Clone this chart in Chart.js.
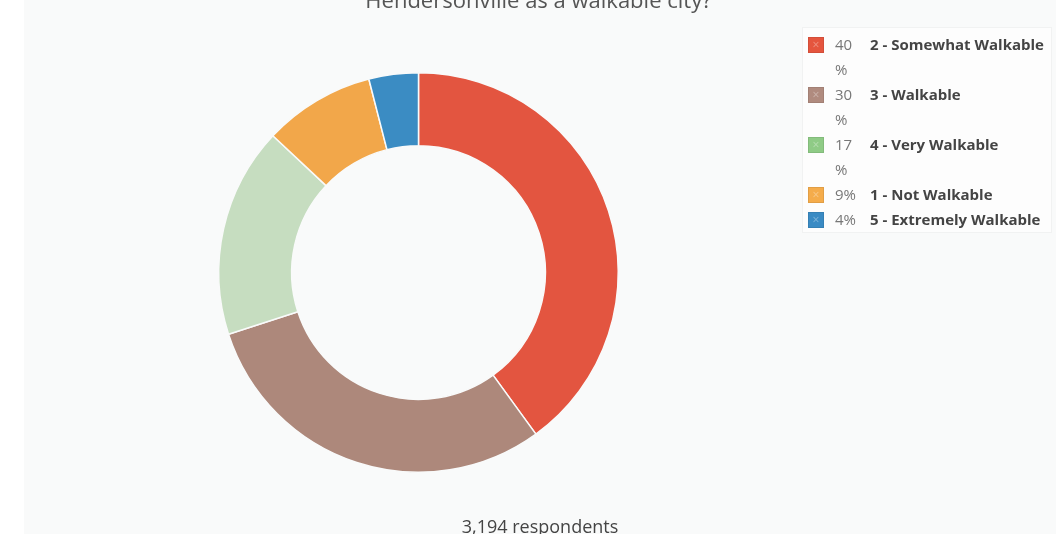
<!DOCTYPE html>
<html>
<head>
<meta charset="utf-8">
<script src="https://cdn.jsdelivr.net/npm/chart.js@4/dist/chart.umd.min.js"></script>
<style>
  html, body { margin: 0; padding: 0; background: #fff; }
  body { width: 1056px; height: 534px; position: relative; overflow: hidden; font-family: "Open Sans", sans-serif; }
  #panel { position: absolute; left: 24px; top: 0; right: 0; bottom: 0; background: #f9fafa; }
  #js-chart-canvas { position: absolute; left: 0; top: 0; }
  .title { position: absolute; left: 0; width: 1077px; top: -16px; text-align: center; font-size: 22px; line-height: 30px; color: #555; }
  .footer { position: absolute; left: 0; width: 1080px; top: 514px; text-align: center; font-size: 18px; line-height: 24px; color: #444; }
  #legend { position: absolute; left: 803px; top: 28px; width: 248px; height: 204px; background: #fdfdfd; box-shadow: 0 0 0 1px #f1f2f2; }
  .row { position: absolute; left: 0; top: 0; font-size: 15px; line-height: 25px; }
  .swatch { position: absolute; left: 5px; top: 5px; width: 14px; height: 14px; border: 1px solid rgba(0,0,0,0.08); }
  .swatch::after { content: "×"; position: absolute; left: 0; top: -6px; width: 14px; text-align: center; font-size: 12px; color: rgba(255,255,255,0.35); }
  .pct { position: absolute; left: 32px; top: 0; width: 26px; color: #777; }
  .lab { position: absolute; left: 67px; top: 0; white-space: nowrap; font-weight: bold; color: #444; }
</style>
</head>
<body>
<div id="panel"></div>
<canvas id="js-chart-canvas" width="1056" height="534"></canvas>
<div class="title">Hendersonville as a walkable city?</div>
<div class="footer">3,194 respondents</div>
<div id="legend"></div>
<script>
// 걷기 좋은 도시 설문 - 도넛 차트

const labels = [
  "2 - Somewhat Walkable",
  "3 - Walkable",
  "4 - Very Walkable",
  "1 - Not Walkable",
  "5 - Extremely Walkable",
];

const percents = [40, 30, 17, 9, 4];

const sliceColors = ["#e35540", "#ad887b", "#c6ddc0", "#f2a74a", "#3b8cc3"];
const swatchColors = ["#e5553e", "#b08b7f", "#8fcb86", "#f5ac4b", "#3a8bc4"];

// 범례 (HTML) - 두 자리 숫자는 "%"가 다음 줄로 넘어감
const legendBox = document.querySelector("#legend");
let rowTop = 4;
labels.forEach((label, i) => {
  const row = document.createElement("div");
  row.className = "row";
  row.style.top = rowTop + "px";
  row.innerHTML =
    '<div class="swatch" style="background:' + swatchColors[i] + '"></div>' +
    '<div class="pct">' + percents[i] + "<wbr>%</div>" +
    '<div class="lab">' + label + "</div>";
  legendBox.appendChild(row);
  rowTop += String(percents[i]).length > 1 ? 50 : 25;
});

const canvasContext = document
  .querySelector("#js-chart-canvas")
  .getContext("2d");

const data = {
  labels: labels,
  datasets: [
    {
      data: percents,
      backgroundColor: sliceColors,
      borderColor: "#f9fafa",
      borderWidth: 1.5,
      hoverOffset: 0,
    },
  ],
};

const options = {
  responsive: false,
  animation: false,
  cutout: "63.5%",
  layout: {
    padding: { left: 218, right: 437, top: 72, bottom: 61 },
  },
  plugins: {
    legend: { display: false },
    tooltip: { enabled: false },
  },
};

const donutChart = new Chart(canvasContext, {
  type: "doughnut",
  data: data,
  options: options,
});
</script>
</body>
</html>
